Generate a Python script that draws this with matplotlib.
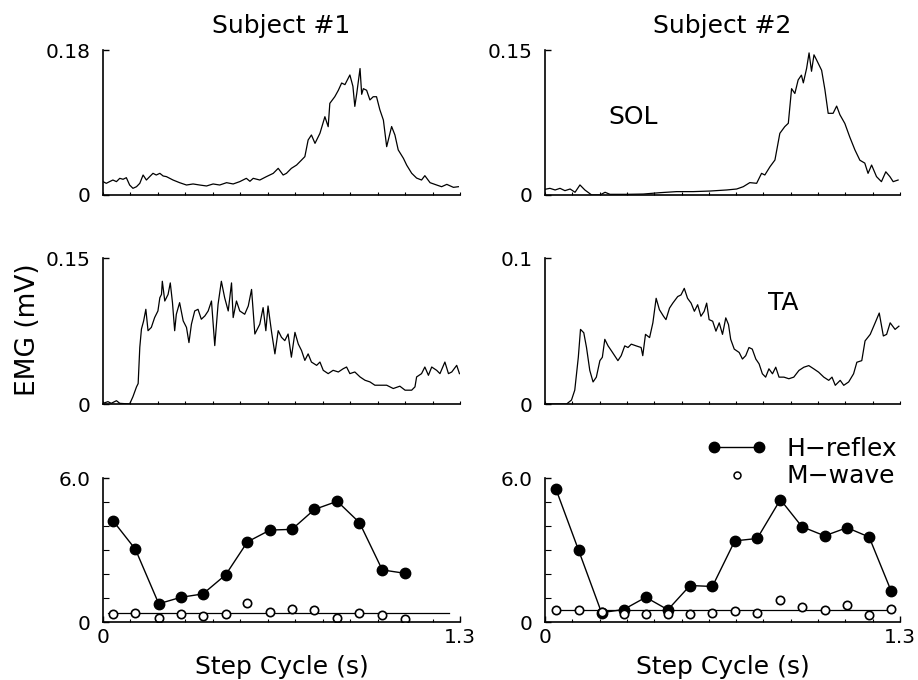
import numpy as np
import matplotlib
matplotlib.use('Agg')
import matplotlib.pyplot as plt
from matplotlib.lines import Line2D
from matplotlib.legend_handler import HandlerLine2D

plt.rcParams['font.family'] = ['DejaVu Sans']

# ---- EMG traces (time in s, EMG in mV) ----
s1_sol_t = [0, 0.012, 0.024, 0.036, 0.049, 0.061, 0.073, 0.085, 0.097, 0.109, 0.122, 0.134,
            0.146, 0.158, 0.170, 0.182, 0.194, 0.207, 0.219, 0.231, 0.255, 0.279, 0.304, 0.328,
            0.352, 0.377, 0.401, 0.425, 0.450, 0.474, 0.498, 0.522, 0.535, 0.547, 0.571, 0.595,
            0.620, 0.638, 0.656, 0.668, 0.686, 0.705, 0.723, 0.735, 0.747, 0.759, 0.772, 0.790,
            0.808, 0.820, 0.826, 0.844, 0.857, 0.869, 0.881, 0.899, 0.910, 0.917, 0.924, 0.936,
            0.942, 0.948, 0.960, 0.972, 0.984, 0.996, 1.008, 1.021, 1.033, 1.051, 1.063, 1.075,
            1.094, 1.106, 1.124, 1.142, 1.160, 1.172, 1.191, 1.215, 1.233, 1.252, 1.276, 1.294]
s1_sol_v = [0.0166, 0.0145, 0.0166, 0.0186, 0.0166, 0.0207, 0.0195, 0.0215, 0.0124, 0.0083, 0.0103, 0.0145,
            0.0248, 0.0186, 0.0228, 0.0269, 0.0248, 0.0269, 0.0236, 0.0228, 0.0186, 0.0153, 0.0124, 0.0137,
            0.0124, 0.0112, 0.0137, 0.0124, 0.0153, 0.0137, 0.0166, 0.0207, 0.0170, 0.0207, 0.0186, 0.0228,
            0.0269, 0.0331, 0.0248, 0.0269, 0.0331, 0.0372, 0.0434, 0.0476, 0.0683, 0.0745, 0.0641, 0.0766,
            0.0972, 0.0848, 0.1138, 0.1220, 0.1300, 0.1390, 0.1370, 0.1490, 0.1350, 0.1100, 0.1260, 0.1570,
            0.1250, 0.1320, 0.1300, 0.1180, 0.1220, 0.1220, 0.1060, 0.0930, 0.0600, 0.0850, 0.0745, 0.0560,
            0.0455, 0.0370, 0.0270, 0.0210, 0.0186, 0.0240, 0.0153, 0.0124, 0.0103, 0.0132, 0.0095, 0.0103]

s2_sol_t = [0, 0.018, 0.037, 0.055, 0.073, 0.092, 0.110, 0.128, 0.146, 0.171, 0.201, 0.220,
            0.238, 0.299, 0.360, 0.421, 0.482, 0.543, 0.604, 0.665, 0.702, 0.726, 0.750, 0.775,
            0.793, 0.805, 0.824, 0.842, 0.860, 0.878, 0.891, 0.903, 0.915, 0.927, 0.939, 0.946,
            0.958, 0.967, 0.976, 0.985, 0.994, 1.013, 1.025, 1.037, 1.055, 1.068, 1.080, 1.098,
            1.116, 1.135, 1.153, 1.171, 1.183, 1.196, 1.214, 1.232, 1.248, 1.263, 1.275, 1.293]
s2_sol_v = [0.0059, 0.0069, 0.0052, 0.0069, 0.0045, 0.0062, 0.0028, 0.0104, 0.0052, 0.0, 0.0, 0.0028,
            0.0007, 0.0007, 0.0010, 0.0024, 0.0035, 0.0035, 0.0041, 0.0052, 0.0062, 0.0086, 0.0128, 0.0121,
            0.0224, 0.0207, 0.0293, 0.0362, 0.0638, 0.0707, 0.0742, 0.1100, 0.1050, 0.1190, 0.1240, 0.1160,
            0.1310, 0.1470, 0.1280, 0.1450, 0.1400, 0.1290, 0.1090, 0.0845, 0.0845, 0.0920, 0.0830, 0.0740,
            0.0600, 0.0466, 0.0360, 0.0330, 0.0224, 0.0310, 0.0190, 0.0138, 0.0240, 0.0190, 0.0138, 0.0155]

s1_ta_t = [0, 0.018, 0.030, 0.049, 0.061, 0.097, 0.109, 0.122, 0.128, 0.134, 0.140, 0.148,
           0.156, 0.164, 0.176, 0.188, 0.200, 0.207, 0.213, 0.216, 0.225, 0.237, 0.245, 0.253,
           0.261, 0.267, 0.279, 0.292, 0.304, 0.313, 0.322, 0.334, 0.346, 0.358, 0.371, 0.383,
           0.395, 0.407, 0.419, 0.431, 0.443, 0.456, 0.468, 0.474, 0.486, 0.498, 0.516, 0.529,
           0.541, 0.553, 0.571, 0.583, 0.593, 0.601, 0.614, 0.626, 0.638, 0.650, 0.662, 0.674,
           0.686, 0.699, 0.711, 0.723, 0.735, 0.747, 0.759, 0.778, 0.790, 0.802, 0.820, 0.838,
           0.857, 0.875, 0.887, 0.899, 0.917, 0.936, 0.954, 0.972, 0.990, 1.008, 1.033, 1.057,
           1.081, 1.100, 1.124, 1.136, 1.142, 1.160, 1.172, 1.185, 1.197, 1.215, 1.227, 1.245,
           1.258, 1.270, 1.288, 1.298]
s1_ta_v = [0.0007, 0.0024, 0.0007, 0.0034, 0.0007, 0.0, 0.0075, 0.0176, 0.0210, 0.0583, 0.0770, 0.0854,
           0.0973, 0.0753, 0.0787, 0.0888, 0.0956, 0.1092, 0.1126, 0.1261, 0.1058, 0.1126, 0.1244, 0.1041,
           0.0753, 0.0922, 0.1041, 0.0854, 0.0787, 0.0631, 0.0820, 0.0956, 0.0973, 0.0871, 0.0905, 0.0956,
           0.1058, 0.0600, 0.1024, 0.1261, 0.1092, 0.0956, 0.1244, 0.0888, 0.1058, 0.0956, 0.0922, 0.1007,
           0.1177, 0.0719, 0.0820, 0.0990, 0.0753, 0.1007, 0.0736, 0.0515, 0.0753, 0.0685, 0.0651, 0.0719,
           0.0481, 0.0736, 0.0617, 0.0549, 0.0448, 0.0515, 0.0431, 0.0397, 0.0431, 0.0346, 0.0312, 0.0346,
           0.0329, 0.0363, 0.0380, 0.0312, 0.0329, 0.0278, 0.0244, 0.0227, 0.0193, 0.0193, 0.0193, 0.0159,
           0.0183, 0.0142, 0.0142, 0.0176, 0.0278, 0.0312, 0.0380, 0.0295, 0.0380, 0.0346, 0.0312, 0.0431,
           0.0312, 0.0329, 0.0397, 0.0312]

s2_ta_t = [0, 0.079, 0.097, 0.109, 0.122, 0.130, 0.142, 0.152, 0.164, 0.176, 0.188, 0.201,
           0.210, 0.219, 0.231, 0.243, 0.255, 0.267, 0.279, 0.292, 0.304, 0.316, 0.334, 0.352,
           0.358, 0.368, 0.383, 0.395, 0.407, 0.419, 0.434, 0.443, 0.456, 0.468, 0.486, 0.498,
           0.510, 0.522, 0.535, 0.547, 0.559, 0.571, 0.583, 0.592, 0.601, 0.614, 0.626, 0.638,
           0.650, 0.662, 0.672, 0.680, 0.693, 0.711, 0.723, 0.735, 0.747, 0.759, 0.772, 0.784,
           0.796, 0.808, 0.820, 0.833, 0.845, 0.857, 0.875, 0.893, 0.911, 0.930, 0.948, 0.966,
           0.984, 1.002, 1.021, 1.039, 1.051, 1.063, 1.081, 1.094, 1.112, 1.130, 1.142, 1.160,
           1.172, 1.191, 1.209, 1.224, 1.239, 1.251, 1.264, 1.282, 1.296]
s2_ta_v = [0.0, 0.0, 0.0027, 0.0095, 0.0320, 0.0511, 0.0488, 0.0387, 0.0230, 0.0151, 0.0184, 0.0297,
           0.0320, 0.0443, 0.0398, 0.0365, 0.0331, 0.0297, 0.0331, 0.0398, 0.0387, 0.0410, 0.0398, 0.0387,
           0.0331, 0.0477, 0.0455, 0.0556, 0.0724, 0.0646, 0.0601, 0.0578, 0.0657, 0.0691, 0.0736, 0.0747,
           0.0792, 0.0724, 0.0691, 0.0635, 0.0680, 0.0601, 0.0635, 0.0691, 0.0578, 0.0567, 0.0499, 0.0556,
           0.0477, 0.0590, 0.0544, 0.0443, 0.0376, 0.0353, 0.0308, 0.0331, 0.0387, 0.0376, 0.0308, 0.0275,
           0.0207, 0.0184, 0.0241, 0.0207, 0.0252, 0.0184, 0.0184, 0.0173, 0.0184, 0.0230, 0.0252, 0.0263,
           0.0241, 0.0218, 0.0184, 0.0162, 0.0184, 0.0128, 0.0162, 0.0128, 0.0151, 0.0207, 0.0286, 0.0297,
           0.0432, 0.0477, 0.0556, 0.0623, 0.0466, 0.0477, 0.0556, 0.0511, 0.0533]

# ---- H-reflex and M-wave amplitudes ----
s1_step_t = [0.037, 0.118, 0.203, 0.284, 0.364, 0.447, 0.526, 0.608, 0.688, 0.770, 0.853, 0.934, 1.017, 1.099]
s1_h = [4.21, 3.03, 0.76, 1.03, 1.17, 1.97, 3.34, 3.83, 3.86, 4.69, 5.03, 4.14, 2.17, 2.03]
s1_m = [0.32, 0.39, 0.18, 0.34, 0.26, 0.34, 0.79, 0.41, 0.55, 0.52, 0.18, 0.37, 0.28, 0.14]
s1_m_level = 0.37
s1_m_span = [0.02, 1.26]

s2_step_t = [0.040, 0.123, 0.207, 0.288, 0.369, 0.450, 0.531, 0.613, 0.695, 0.777, 0.862, 0.941,
             1.024, 1.106, 1.187, 1.268]
s2_h = [5.54, 2.99, 0.39, 0.52, 1.03, 0.51, 1.52, 1.48, 3.38, 3.48, 5.10, 3.97, 3.59, 3.93, 3.54, 1.28]
s2_m = [0.48, 0.48, 0.41, 0.34, 0.34, 0.32, 0.32, 0.37, 0.46, 0.37, 0.92, 0.62, 0.52, 0.69, 0.30, 0.55]
s2_m_level = 0.48
s2_m_span = [0.04, 1.27]

titles = ['Subject #1', 'Subject #2']
emg_top = [[0.18, 0.15], [0.15, 0.1]]
emg_top_lbl = [['0.18', '0.15'], ['0.15', '0.1']]

W, H = 918, 680
fig = plt.figure(figsize=(W / 100, H / 100), dpi=100)

def box(x0, x1, ytop, ybot):
    return [x0 / W, 1 - ybot / H, (x1 - x0) / W, (ybot - ytop) / H]

cols = [(103, 460), (545, 900)]
rows = [(50, 195), (258, 404), (478, 622)]

axes = [[fig.add_axes(box(c[0], c[1], r[0], r[1])) for c in cols] for r in rows]

FS = 14.5   # tick labels
BIG = 18    # titles, labels, legend
for r in range(3):
    for c in range(2):
        ax = axes[r][c]
        ax.spines['top'].set_visible(False)
        ax.spines['right'].set_visible(False)
        for s in ['left', 'bottom']:
            ax.spines[s].set_linewidth(1.2)
        ax.set_xlim(0, 1.3)
        ax.tick_params(direction='in', length=4, width=1, labelsize=FS, pad=9)
        ax.set_xticks(np.arange(0, 1.31, 0.1), minor=True)
        ax.tick_params(axis='x', which='minor', direction='in', length=2.5, width=0.8)

traces = [[(s1_sol_t, s1_sol_v), (s2_sol_t, s2_sol_v)],
          [(s1_ta_t, s1_ta_v), (s2_ta_t, s2_ta_v)]]
for r in range(2):
    for c in range(2):
        ax = axes[r][c]
        t, v = traces[r][c]
        ax.plot(t, v, color='black', lw=0.9)
        ax.set_ylim(0, emg_top[r][c])
        ax.set_yticks([0, emg_top[r][c]])
        ax.set_yticklabels(['0', emg_top_lbl[r][c]])
        ax.set_xticks([])

for c, (st, h, m, lev, span) in enumerate([(s1_step_t, s1_h, s1_m, s1_m_level, s1_m_span),
                                           (s2_step_t, s2_h, s2_m, s2_m_level, s2_m_span)]):
    ax = axes[2][c]
    ax.plot(span, [lev, lev], color='black', lw=0.9)
    ax.plot(st, h, color='black', lw=1, marker='o', ms=7.5, mfc='black', mec='black')
    ax.plot(st, m, ls='none', marker='o', ms=6, mfc='white', mec='black', mew=1.2)
    ax.set_ylim(0, 6)
    ax.set_yticks([0, 6])
    ax.set_yticklabels(['0', '6.0'])
    ax.set_yticks([1, 2, 3, 4, 5], minor=True)
    ax.tick_params(axis='y', which='minor', direction='in', length=4, width=0.8)
    ax.set_xticks([0, 1.3])
    ax.set_xticklabels(['0', '1.3'])
    ax.tick_params(axis='x', which='major', pad=4)
    ax.set_xlabel('Step Cycle (s)', fontsize=BIG, labelpad=6)

for c in range(2):
    axes[0][c].set_title(titles[c], fontsize=BIG, pad=12)

axes[0][1].text(0.248, 0.54, 'SOL', transform=axes[0][1].transAxes, fontsize=BIG,
                ha='center', va='center')
axes[1][1].text(0.67, 0.69, 'TA', transform=axes[1][1].transAxes, fontsize=BIG,
                ha='center', va='center')

fig.text(28 / W, 1 - 330 / H, 'EMG (mV)', rotation=90, fontsize=19, ha='center', va='center')

h_handle = Line2D([], [], color='black', lw=1, marker='o', ms=7.5)
m_handle = Line2D([], [], ls='none', marker='o', ms=5, mfc='white', mec='black', mew=1.1)
fig.legend([h_handle, m_handle], ['H\u2212reflex', 'M\u2212wave'],
           handler_map={h_handle: HandlerLine2D(numpoints=2), m_handle: HandlerLine2D(numpoints=1)},
           loc='upper right', bbox_to_anchor=(910 / W, 1 - 424 / H), frameon=False,
           fontsize=BIG, handlelength=2.4, handletextpad=0.8, labelspacing=0.15, borderpad=0)

fig.savefig('out.png', dpi=100)
